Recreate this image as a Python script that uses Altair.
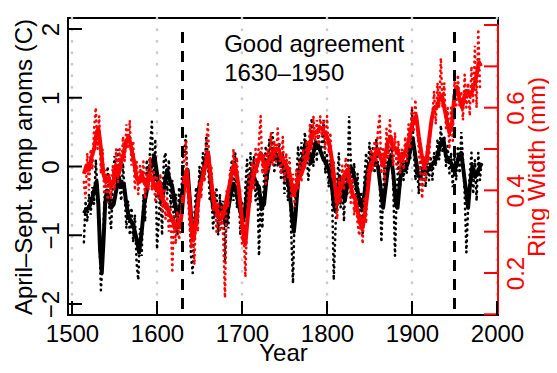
import altair as alt
import pandas as pd

# ---------------- data ----------------
# annual temperature anomalies (C), every 2 years 1514..1982
temp_raw = [
    -1.1, -0.5, -0.8, -0.4, -0.7,
    -0.3, -0.55, 0.1, -0.35, -0.9,
    -1.8, -1.4, -0.5, -0.2, 0.0,
    -0.7, -0.9, -0.3, 0.15, -0.2,
    0.25, -0.3, -0.5, 0.05, -0.4,
    -0.9, -0.5, -1.0, -0.6, -1.1,
    -0.7, -1.4, -1.65, -0.9, -1.3,
    -0.4, -0.8, 0.1, -0.2, 0.3,
    0.65, -0.3, 0.4, -1.2, -0.8,
    -0.3, -1.0, 0.1, 0.2, -0.4,
    0.1, -0.6, -0.2, -0.9, -0.4,
    -1.0, -0.3, -0.7, 0.1, 0.2,
    0.45, -0.3, -0.6, -1.3, -1.55,
    -0.7, -0.3, -0.8, 0.0, -0.3,
    0.2, -0.1, 0.45, 0.1, -0.5,
    -0.4, -0.9, -0.6, -0.3, -1.0,
    -0.4, -0.9, -0.5, -1.4, -0.6,
    -0.9, -0.2, 0.1, -0.5, 0.2,
    -0.6, -0.3, -1.0, -0.5, -1.1,
    -0.3, 0.1, -0.4, 0.2, -0.3,
    0.15, -0.5, -0.2, -1.3, -0.5,
    -0.9, -0.1, 0.3, -0.2, 0.4,
    0.1, 0.5, -0.1, 0.3, 0.0,
    0.35, -0.2, 0.2, -0.4, 0.1,
    -0.5, -0.2, -1.0, -1.7, -0.6,
    -0.2, 0.3, -0.1, 0.35, 0.05,
    0.5, 0.2, -0.2, 0.1, 0.7,
    0.0, 0.4, 0.1, 0.55, 0.2,
    0.3, 0.68, -0.1, 0.2, -0.3,
    0.1, -0.4, -1.65, -0.9, -0.2,
    0.2, -0.6, -0.2, -0.8, -0.1,
    -0.4, 0.73, 0.1, -0.3, 0.05,
    -0.5, -0.1, -0.8, -0.4, -1.0,
    -0.2, 0.2, -0.1, 0.35, -0.1,
    0.3, -0.1, 0.4, 0.0, -0.2,
    -1.1, -0.4, 0.1, -0.3, 0.3,
    0.0, 0.4, -0.3, -1.3, -0.4,
    0.1, -0.3, 0.2, -0.2, 0.1,
    -0.1, 0.3, 0.1, 0.83, 0.3,
    -0.2, 0.0, -0.4, 0.1, -0.3,
    0.05, -0.3, 0.1, -0.2, 0.15,
    -0.2, 0.2, 0.0, 0.4, 0.1,
    0.6, 0.2, 0.45, 0.0, 0.3,
    -0.1, 0.2, -0.3, 0.2, -0.2,
    0.3, -0.1, 0.5, 0.1, -0.4,
    -1.25, -0.6, -0.1, 0.2, -0.4,
    0.1, -0.5, 0.2, -0.2, 0.1,
]
temp_raw_years = list(range(1514, 1983, 2))

# smoothed temperature
temp_smooth_years = [
    1514, 1517, 1520, 1523, 1526, 1529, 1531, 1533, 1535, 1537, 1539, 1541, 1543, 1546, 1549,
    1552, 1555, 1558, 1561, 1564, 1567, 1570, 1573, 1576, 1579, 1582, 1585, 1588, 1591, 1594,
    1597, 1600, 1603, 1606, 1609, 1612, 1615, 1618, 1621, 1624, 1627, 1630, 1633, 1636, 1639,
    1642, 1645, 1648, 1651, 1654, 1657, 1660, 1663, 1666, 1669, 1672, 1675, 1678, 1681, 1684,
    1687, 1690, 1693, 1696, 1699, 1702, 1705, 1708, 1711, 1714, 1717, 1720, 1723, 1726, 1729,
    1732, 1735, 1738, 1741, 1744, 1747, 1750, 1753, 1756, 1759, 1761, 1763, 1766, 1769, 1772,
    1775, 1778, 1781, 1784, 1787, 1790, 1793, 1796, 1799, 1802, 1805, 1808, 1810, 1812, 1815,
    1818, 1821, 1824, 1827, 1830, 1833, 1836, 1839, 1842, 1845, 1848, 1851, 1854, 1857, 1860,
    1863, 1866, 1869, 1872, 1875, 1878, 1881, 1883, 1886, 1889, 1892, 1895, 1898, 1901, 1904,
    1907, 1910, 1913, 1916, 1919, 1922, 1925, 1928, 1931, 1934, 1937, 1940, 1943, 1946, 1949,
    1952, 1955, 1958, 1961, 1964, 1966, 1968, 1971, 1974, 1977, 1980, 1982,
]
temp_smooth = [
    -0.68, -0.62, -0.6, -0.5, -0.35, -0.22, -0.55, -1.2, -1.55, -1.1, -0.55, -0.35, -0.45, -0.6, -0.55,
    -0.35, -0.15, -0.3, -0.25, -0.55, -0.75, -0.8, -0.9, -1.05, -1.25, -0.95, -0.55, -0.35, -0.1, 0.05,
    0.15, -0.1, -0.45, -0.5, -0.25, -0.05, -0.2, -0.3, -0.55, -0.7, -0.6, -0.35, -0.1, -0.05, -0.55,
    -1.05, -0.85, -0.45, -0.2, -0.1, 0.1, 0.2, -0.2, -0.6, -0.7, -0.65, -0.55, -0.7, -0.85, -0.6,
    -0.4, -0.25, -0.35, -0.55, -0.7, -0.75, -0.5, -0.2, -0.1, -0.15, -0.25, -0.3, -0.6, -0.55, -0.15,
    0.05, 0.1, 0.2, 0.15, 0.05, 0.1, -0.05, -0.15, -0.35, -0.75, -0.95, -0.7, -0.2, 0.05, 0.15,
    0.35, 0.2, 0.05, 0.2, 0.35, 0.3, 0.2, 0.1, 0.05, -0.05, -0.2, -0.55, -0.65, -0.45, -0.15,
    -0.3, -0.5, -0.25, 0.0, -0.05, -0.2, -0.35, -0.55, -0.6, -0.3, -0.05, 0.05, 0.15, 0.05, 0.0,
    -0.3, -0.6, -0.3, 0.0, 0.15, -0.1, -0.55, -0.6, -0.2, 0.0, -0.05, 0.05, 0.25, 0.4, 0.15,
    -0.1, -0.15, -0.05, -0.1, -0.05, 0.0, 0.05, 0.1, 0.2, 0.35, 0.4, 0.15, 0.1, 0.05, -0.05,
    0.0, 0.15, 0.2, -0.1, -0.4, -0.6, -0.3, 0.0, -0.15, -0.1, 0.0, 0.05,
]

# annual ring widths (mm), every 2 years 1514..1980
ring_raw = [
    0.42, 0.38, 0.49, 0.4, 0.5,
    0.45, 0.55, 0.6, 0.5, 0.58,
    0.44, 0.5, 0.39, 0.45, 0.37,
    0.44, 0.38, 0.46, 0.4, 0.5,
    0.42, 0.5, 0.45, 0.53, 0.47,
    0.56, 0.5, 0.57, 0.46, 0.52,
    0.4, 0.47, 0.39, 0.46, 0.42,
    0.47, 0.38, 0.45, 0.4, 0.48,
    0.4, 0.45, 0.37, 0.43, 0.38,
    0.44, 0.35, 0.4, 0.33, 0.38,
    0.3, 0.36, 0.2, 0.34, 0.27,
    0.35, 0.28, 0.32, 0.4, 0.47,
    0.52, 0.4, 0.33, 0.26, 0.3,
    0.22, 0.36, 0.3, 0.42, 0.38,
    0.46, 0.42, 0.52, 0.56, 0.42,
    0.46, 0.35, 0.4, 0.3, 0.37,
    0.3, 0.36, 0.28, 0.14, 0.4,
    0.36, 0.45, 0.42, 0.5, 0.43,
    0.48, 0.4, 0.36, 0.27, 0.3,
    0.19, 0.33, 0.44, 0.37, 0.47,
    0.4, 0.5, 0.44, 0.52, 0.58,
    0.44, 0.49, 0.41, 0.5, 0.45,
    0.54, 0.46, 0.52, 0.47, 0.55,
    0.48, 0.44, 0.53, 0.42, 0.49,
    0.43, 0.48, 0.38, 0.44, 0.36,
    0.45, 0.4, 0.47, 0.42, 0.5,
    0.45, 0.52, 0.47, 0.56, 0.5,
    0.58, 0.52, 0.57, 0.51, 0.58,
    0.53, 0.57, 0.5, 0.58, 0.49,
    0.54, 0.43, 0.47, 0.38, 0.33,
    0.43, 0.37, 0.46, 0.4, 0.48,
    0.42, 0.46, 0.37, 0.43, 0.34,
    0.39, 0.32, 0.29, 0.34, 0.27,
    0.38, 0.32, 0.45, 0.42, 0.5,
    0.45, 0.52, 0.46, 0.55, 0.58,
    0.44, 0.5, 0.42, 0.55, 0.48,
    0.57, 0.5, 0.46, 0.54, 0.45,
    0.52, 0.44, 0.5, 0.45, 0.53,
    0.47, 0.56, 0.5, 0.6, 0.54,
    0.62, 0.55, 0.5, 0.44, 0.38,
    0.48, 0.42, 0.51, 0.47, 0.56,
    0.58, 0.64, 0.56, 0.66, 0.6,
    0.72, 0.6, 0.66, 0.55, 0.6,
    0.5, 0.6, 0.52, 0.67, 0.6,
    0.68, 0.6, 0.64, 0.57, 0.68,
    0.6, 0.66, 0.58, 0.7, 0.61,
    0.75, 0.6, 0.79, 0.65,
]
ring_raw_years = list(range(1514, 1981, 2))

ring_smooth_years = [
    1514, 1517, 1520, 1523, 1526, 1529, 1531, 1533, 1535, 1537, 1540, 1543, 1546, 1549, 1552,
    1555, 1558, 1561, 1564, 1567, 1570, 1573, 1576, 1579, 1582, 1585, 1588, 1591, 1594, 1597,
    1600, 1603, 1606, 1609, 1612, 1615, 1618, 1621, 1624, 1627, 1630, 1633, 1635, 1638, 1641,
    1643, 1646, 1649, 1652, 1655, 1658, 1660, 1663, 1666, 1669, 1672, 1675, 1678, 1681, 1684,
    1687, 1690, 1693, 1696, 1699, 1702, 1704, 1707, 1710, 1713, 1716, 1719, 1722, 1725, 1728,
    1731, 1734, 1737, 1740, 1743, 1746, 1749, 1752, 1755, 1758, 1761, 1764, 1767, 1770, 1773,
    1776, 1779, 1782, 1785, 1788, 1791, 1794, 1797, 1800, 1803, 1806, 1809, 1812, 1815, 1818,
    1821, 1824, 1827, 1830, 1833, 1836, 1839, 1842, 1845, 1848, 1851, 1854, 1857, 1860, 1863,
    1866, 1869, 1872, 1875, 1878, 1881, 1884, 1887, 1890, 1893, 1896, 1899, 1902, 1905, 1908,
    1911, 1914, 1917, 1920, 1923, 1926, 1929, 1932, 1935, 1938, 1941, 1944, 1947, 1950, 1953,
    1956, 1959, 1962, 1965, 1968, 1971, 1974, 1977, 1979, 1981,
]
ring_smooth = [
    0.44, 0.46, 0.45, 0.48, 0.5, 0.54, 0.55, 0.52, 0.48, 0.44, 0.42, 0.43, 0.41, 0.42, 0.46,
    0.44, 0.47, 0.49, 0.52, 0.53, 0.5, 0.47, 0.43, 0.42, 0.44, 0.42, 0.41, 0.44, 0.43, 0.41,
    0.4, 0.42, 0.38, 0.37, 0.36, 0.34, 0.33, 0.31, 0.32, 0.31, 0.36, 0.43, 0.45, 0.38, 0.3,
    0.28, 0.33, 0.38, 0.42, 0.44, 0.47, 0.49, 0.44, 0.38, 0.36, 0.34, 0.33, 0.34, 0.37, 0.4,
    0.43, 0.46, 0.45, 0.41, 0.35, 0.29, 0.27, 0.34, 0.4, 0.43, 0.45, 0.47, 0.49, 0.47, 0.45,
    0.47, 0.48, 0.49, 0.5, 0.5, 0.48, 0.47, 0.46, 0.45, 0.42, 0.39, 0.41, 0.43, 0.44, 0.46,
    0.48, 0.5, 0.53, 0.54, 0.54, 0.55, 0.55, 0.54, 0.53, 0.51, 0.47, 0.42, 0.37, 0.4, 0.42,
    0.44, 0.45, 0.42, 0.39, 0.38, 0.35, 0.32, 0.31, 0.35, 0.4, 0.46, 0.47, 0.49, 0.5, 0.48,
    0.46, 0.49, 0.52, 0.53, 0.5, 0.5, 0.49, 0.47, 0.48, 0.5, 0.52, 0.55, 0.57, 0.58, 0.53,
    0.49, 0.46, 0.47, 0.52, 0.57, 0.6, 0.6, 0.62, 0.63, 0.6, 0.57, 0.54, 0.56, 0.63, 0.65,
    0.62, 0.6, 0.63, 0.64, 0.63, 0.64, 0.66, 0.69, 0.71, 0.7,
]

assert len(temp_raw) == len(temp_raw_years)
assert len(ring_raw) == len(ring_raw_years)
assert len(temp_smooth) == len(temp_smooth_years)
assert len(ring_smooth) == len(ring_smooth_years)

x_ticks = [1500, 1600, 1700, 1800, 1900, 2000]
temp_ticks = [-2, -1, 0, 1, 2]
ring_ticks = [0.1, 0.2, 0.3, 0.4, 0.5, 0.6, 0.7, 0.8]
ring_labels = [0.2, 0.4, 0.6]
period_years = [1630, 1950]
note_lines = ["Good agreement", "1630–1950"]
note_years = [1679, 1679]
note_temps = [1.66, 1.245]

# ---------------- layout / style ----------------
W, H = 430, 297
FONT = "Liberation Sans"
FS = 24
RED = "#ff0000"

xs = alt.Scale(domain=[1495.3, 2001.2], nice=False, zero=False)
ts = alt.Scale(domain=[-2.16, 2.16], nice=False, zero=False)
rs = alt.Scale(domain=[0.0984, 0.817], nice=False, zero=False)

x_axis = alt.Axis(
    values=x_ticks, format="d", ticks=False, domain=False, grid=False,
    labelFontSize=FS, labelFont=FONT, labelColor="black", labelFlush=False,
    labelOverlap=False, labelBaseline="middle", labelPadding=19,
    title="Year", titleFontSize=FS, titleFont=FONT, titleFontWeight="normal",
    titleColor="black", titleX=W / 2, titleY=38, titleBaseline="middle", titleAlign="center",
)
t_axis = alt.Axis(
    values=temp_ticks, ticks=False, domain=False, grid=False,
    labelExpr="datum.value < 0 ? '\u2212' + abs(datum.value) : '' + datum.value",
    labelFontSize=FS, labelFont=FONT, labelColor="black", labelAngle=270,
    labelAlign="center", labelBaseline="middle", labelPadding=17, labelOverlap=False,
    labelFlush=False,
    title="April–Sept. temp anoms (C)", titleFontSize=FS, titleFont=FONT,
    titleFontWeight="normal", titleColor="black", titleAngle=270,
    titleX=-44, titleY=H / 2, titleAlign="center", titleBaseline="middle",
)
r_axis = alt.Axis(
    orient="right", values=ring_labels, format=".1f", ticks=False, domain=False, grid=False,
    labelFontSize=FS, labelFont=FONT, labelColor=RED, labelAngle=270,
    labelAlign="center", labelBaseline="middle", labelPadding=18, labelOverlap=False,
    labelFlush=False,
    title="Ring Width (mm)", titleFontSize=FS, titleFont=FONT, titleFontWeight="normal",
    titleColor=RED, titleAngle=270, titleX=39, titleY=H / 2,
    titleAlign="center", titleBaseline="middle",
)


def X(field):
    return alt.X(field, type="quantitative", scale=xs, axis=x_axis)


def YT(field):
    return alt.Y(field, type="quantitative", scale=ts, axis=t_axis)


def YR(field):
    return alt.Y(field, type="quantitative", scale=rs, axis=r_axis)


grid_df = pd.DataFrame({"year": x_ticks})
temp_raw_df = pd.DataFrame({"year": temp_raw_years, "v": temp_raw})
temp_sm_df = pd.DataFrame({"year": temp_smooth_years, "v": temp_smooth})
ring_raw_df = pd.DataFrame({"year": ring_raw_years, "v": ring_raw})
ring_sm_df = pd.DataFrame({"year": ring_smooth_years, "v": ring_smooth})
tt_df = pd.DataFrame({"v": temp_ticks})
rt_df = pd.DataFrame({"v": ring_ticks})
rline_df = pd.DataFrame({"v": [ring_ticks[0]], "v2": [ring_ticks[-1]]})
per_df = pd.DataFrame({"year": period_years})
note_df = pd.DataFrame({"year": note_years, "v": note_temps, "label": note_lines})

grid = alt.Chart(grid_df).mark_rule(
    color="#cccccc", strokeWidth=2.6, strokeDash=[0.5, 11], strokeCap="round"
).encode(x=X("year"))

blk_raw = alt.Chart(temp_raw_df).mark_line(
    color="black", strokeWidth=2.6, strokeDash=[0.5, 5], strokeCap="round"
).encode(x=X("year"), y=YT("v"))

blk_sm = alt.Chart(temp_sm_df).mark_line(
    color="black", strokeWidth=4, strokeJoin="round"
).encode(x=X("year"), y=YT("v"))

left_ticks = alt.Chart(tt_df).mark_rule(color="black", strokeWidth=2).encode(
    y=YT("v"), x=alt.value(0), x2=alt.value(14)
)

note = alt.Chart(note_df).mark_text(
    align="left", baseline="alphabetic", font=FONT, fontSize=FS, color="black"
).encode(x=X("year"), y=YT("v"), text="label:N")

left = alt.layer(grid, blk_raw, blk_sm, left_ticks, note)

red_raw = alt.Chart(ring_raw_df).mark_line(
    color=RED, strokeWidth=2.6, strokeDash=[0.5, 5], strokeCap="round"
).encode(x=X("year"), y=YR("v"))

red_sm = alt.Chart(ring_sm_df).mark_line(
    color=RED, strokeWidth=4, strokeJoin="round"
).encode(x=X("year"), y=YR("v"))

right_ticks = alt.Chart(rt_df).mark_rule(color=RED, strokeWidth=2).encode(
    y=YR("v"), x=alt.value(W - 14), x2=alt.value(W)
)

right_line = alt.Chart(rline_df).mark_rule(color=RED, strokeWidth=2).encode(
    y=YR("v"), y2="v2:Q", x=alt.value(W)
)

periods = alt.Chart(per_df).mark_rule(
    color="black", strokeWidth=3, strokeDash=[11, 8]
).encode(x=X("year"), y=alt.value(14), y2=alt.value(H))

bottom_ticks = alt.Chart(grid_df).mark_rule(color="black", strokeWidth=2).encode(
    x=X("year"), y=alt.value(H - 14), y2=alt.value(H)
)

right = alt.layer(red_raw, red_sm, right_ticks, right_line, periods, bottom_ticks)

chart = (
    alt.layer(left, right)
    .resolve_scale(y="independent")
    .properties(
        width=W,
        height=H,
        autosize=alt.AutoSizeParams(type="none"),
        padding={"left": 60, "top": 10, "right": 51, "bottom": 50},
        background="white",
    )
    .configure_view(stroke="black", strokeWidth=2)
)

chart.save("out.html", embed_options={"renderer": "svg", "actions": False})
